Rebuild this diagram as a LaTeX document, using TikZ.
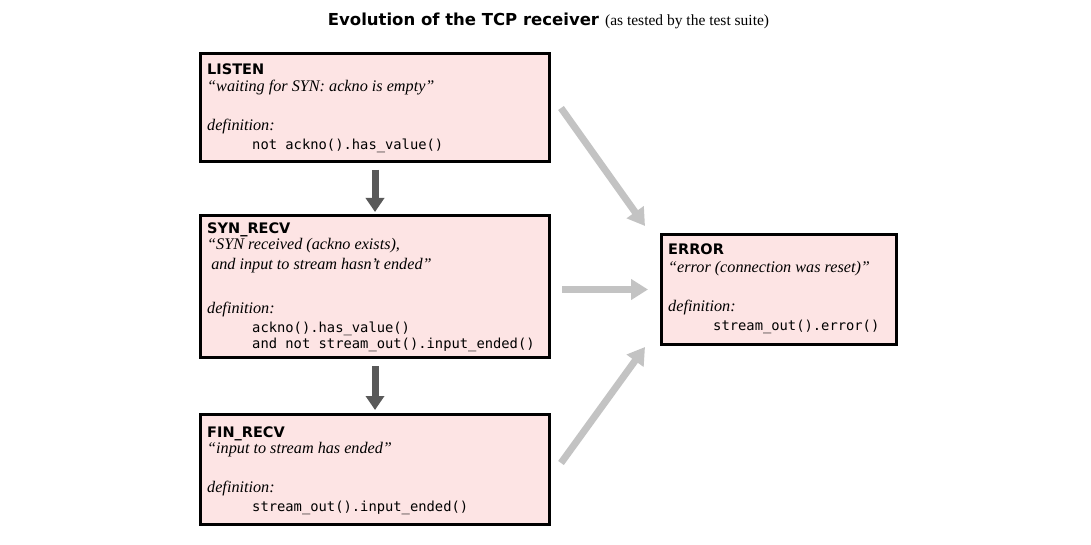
\documentclass[tikz,border=0pt]{standalone}
\usepackage{fontspec}
\setmainfont{Liberation Serif}
\newfontfamily\headfont{DejaVu Sans}
\newfontfamily\codefont{DejaVu Sans Mono}
\usetikzlibrary{arrows.meta}
\definecolor{boxfill}{HTML}{FDE4E4}
\definecolor{darkarr}{HTML}{595959}
\definecolor{lightarr}{HTML}{C3C3C3}
\tikzset{
  statebox/.style={draw=black, line width=3pt, fill=boxfill, inner sep=0pt},
  headtxt/.style={anchor=base west, inner sep=0pt, font=\headfont\bfseries\fontsize{14.5}{16}\selectfont},
  quottxt/.style={anchor=base west, inner sep=0pt, font=\itshape\fontsize{16.2}{20}\selectfont},
  deftxt/.style={anchor=base west, inner sep=0pt, font=\itshape\fontsize{16.2}{20}\selectfont},
  codetxt/.style={anchor=base west, inner sep=0pt, font=\codefont\fontsize{13.8}{15}\selectfont},
  darrow/.style={draw=darkarr, line width=7pt, -{Triangle[width=18pt,length=14pt]}},
  garrow/.style={draw=lightarr, line width=7pt, -{Triangle[width=20pt,length=17pt]}},
}
\begin{document}
\begin{tikzpicture}[x=1pt,y=1pt]
\useasboundingbox (0,0) rectangle (1091,544);
% title
\node[anchor=base, inner sep=0pt] (title) at (548.5,518.5)
  {{\headfont\bfseries\fontsize{16.5}{18}\selectfont Evolution of the TCP receiver}\hspace{6pt}{\fontsize{15.5}{18}\selectfont (as tested by the test suite)}};
% boxes
\node[statebox, minimum width=349pt, minimum height=108pt] (listen) at (375,436.5) {};
\node[statebox, minimum width=349pt, minimum height=142pt] (synrecv) at (375,257.5) {};
\node[statebox, minimum width=349pt, minimum height=110pt] (finrecv) at (375,74.5) {};
\node[statebox, minimum width=235pt, minimum height=110pt] (error) at (779,254.5) {};
% LISTEN texts
\node[headtxt] (l1) at ([shift={(8,-22.5)}]listen.north west) {LISTEN};
\node[quottxt] (l2) at ([shift={(8,-39.5)}]listen.north west) {“waiting for SYN: ackno is empty”};
\node[deftxt] (l3) at ([shift={(8,-79)}]listen.north west) {definition:};
\node[codetxt] (l4) at ([shift={(53,-98)}]listen.north west) {not ackno().has\_value()};
% SYN_RECV texts
\node[headtxt] (s1) at ([shift={(8,-19.5)}]synrecv.north west) {SYN\_RECV};
\node[quottxt] (s2) at ([shift={(8,-35.5)}]synrecv.north west) {“SYN received (ackno exists),};
\node[quottxt] (s3) at ([shift={(8,-55.5)}]synrecv.north west) {\ and input to stream hasn't ended”};
\node[deftxt] (s4) at ([shift={(8,-99)}]synrecv.north west) {definition:};
\node[codetxt] (s5) at ([shift={(53,-118)}]synrecv.north west) {ackno().has\_value()};
\node[codetxt] (s6) at ([shift={(53,-134)}]synrecv.north west) {and not stream\_out().input\_ended()};
% FIN_RECV texts
\node[headtxt] (f1) at ([shift={(8,-24)}]finrecv.north west) {FIN\_RECV};
\node[quottxt] (f2) at ([shift={(8,-40)}]finrecv.north west) {“input to stream has ended”};
\node[deftxt] (f3) at ([shift={(8,-79)}]finrecv.north west) {definition:};
\node[codetxt] (f4) at ([shift={(53,-98)}]finrecv.north west) {stream\_out().input\_ended()};
% ERROR texts
\node[headtxt] (e1) at ([shift={(8,-22)}]error.north west) {ERROR};
\node[quottxt] (e2) at ([shift={(8,-40)}]error.north west) {“error (connection was reset)”};
\node[deftxt] (e3) at ([shift={(8,-78)}]error.north west) {definition:};
\node[codetxt] (e4) at ([shift={(53,-97)}]error.north west) {stream\_out().error()};
% dark arrows
\draw[darrow, shorten <=7pt, shorten >=2pt] (listen.south) -- (synrecv.north);
\draw[darrow, shorten <=7pt, shorten >=3pt] (synrecv.south) -- (finrecv.north);
% gray arrows
\draw[garrow] ([shift={(10,-0.5)}]listen.east) -- ([shift={(-15,7)}]error.north west);
\draw[garrow] ([xshift=11pt]synrecv.east |- error.west) -- ([xshift=-12pt]error.west);
\draw[garrow] ([shift={(10,6.5)}]finrecv.east) -- ([shift={(-15,-1)}]error.south west);
\end{tikzpicture}
\end{document}
